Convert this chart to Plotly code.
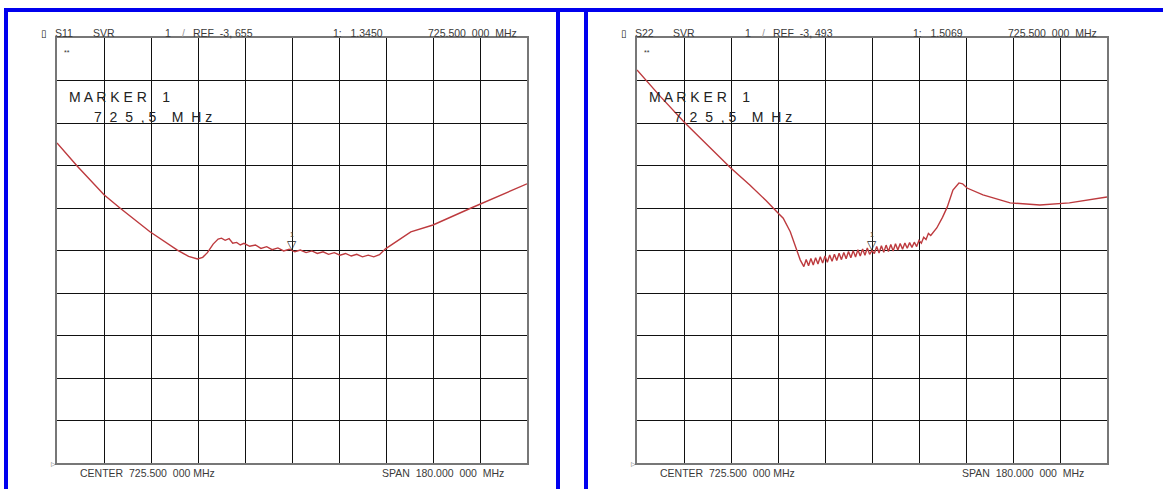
import plotly.graph_objects as go

W, H = 1163, 489

# ---------------- data ----------------
center_mhz = 725.5
span_mhz = 180.0
marker_mhz = 725.5

s11_ref = -3.655
s11_marker_svr = 1.3450
s11_freq = [635.5, 643.2, 653.5, 659.6, 671.1, 681.6, 685.9, 689.3, 691.3, 693.1, 695.3, 697.2,
            698.5, 699.9, 701.4, 702.8, 704.3, 705.7, 707.1, 709.3, 711.5, 713.6, 715.8, 717.9,
            720.1, 722.3, 724.4, 725.5, 726.6, 728.7, 730.9, 733.1, 735.2, 737.4, 739.5, 741.7,
            743.9, 746.0, 748.2, 750.3, 752.5, 754.7, 756.8, 759.0, 761.3, 771.0, 779.5, 794.1, 815.5]
s11_svr = [3.875, 3.335, 2.655, 2.345, 1.785, 1.355, 1.205, 1.145, 1.185, 1.295, 1.495, 1.615,
           1.635, 1.585, 1.625, 1.515, 1.535, 1.475, 1.515, 1.445, 1.475, 1.395, 1.435, 1.365,
           1.405, 1.335, 1.375, 1.345, 1.315, 1.355, 1.295, 1.335, 1.275, 1.315, 1.255, 1.295,
           1.235, 1.275, 1.215, 1.255, 1.195, 1.235, 1.195, 1.245, 1.385, 1.785, 1.945, 2.345, 2.915]

s22_ref = -3.493
s22_marker_svr = 1.5069
s22_freq = [635.5, 644.5, 653.9, 662.5, 671.1, 678.7, 685.0, 689.5, 691.5, 694.2, 698.0,
            699.4, 700.3, 701.2, 702.1, 703.0, 703.9, 704.8, 705.7, 706.6, 707.5,
            708.4, 709.3, 710.2, 711.1, 712.0, 712.9, 713.8, 714.7, 715.6, 716.5,
            717.4, 718.3, 719.2, 720.1, 721.0, 721.9, 722.8, 723.7, 724.6, 725.5,
            726.4, 727.3, 728.2, 729.1, 730.0, 730.9, 731.8, 732.7, 733.6, 734.5,
            735.4, 736.3, 737.2, 738.1, 739.0, 739.9, 740.8, 741.7, 742.6, 743.5,
            744.4, 745.3, 746.2, 747.1, 748.0,
            750.3, 752.5, 754.3, 756.5, 758.8, 760.2, 761.9, 768.0, 778.4, 789.8, 801.1, 815.5]
s22_svr = [5.757, 5.127, 4.507, 3.977, 3.467, 3.047, 2.677, 2.387, 2.267, 1.947, 1.287,
           1.127, 1.297, 1.148, 1.318, 1.168, 1.339, 1.189, 1.359, 1.210, 1.380,
           1.230, 1.401, 1.251, 1.421, 1.272, 1.442, 1.292, 1.463, 1.313, 1.483,
           1.334, 1.504, 1.354, 1.525, 1.375, 1.545, 1.396, 1.566, 1.416, 1.507,
           1.435, 1.603, 1.450, 1.618, 1.466, 1.634, 1.482, 1.649, 1.497, 1.665,
           1.518, 1.671, 1.539, 1.681, 1.559, 1.692, 1.580, 1.703, 1.600, 1.745,
           1.680, 1.820, 1.765, 1.910, 1.860,
           2.037, 2.287, 2.527, 2.927, 3.097, 3.077, 2.977, 2.817, 2.627, 2.577, 2.627, 2.767]

panels = [
    dict(name="S11", ref=s11_ref, mval=s11_marker_svr, freq=s11_freq, svr=s11_svr),
    dict(name="S22", ref=s22_ref, mval=s22_marker_svr, freq=s22_freq, svr=s22_svr),
]

# ---------------- layout helpers ----------------
def px(x):
    return x / W

def py(y):
    return 1 - y / H

NB = "\u00a0"
grid_left = [57, 637]
grid_w = 470
grid_top, grid_bot = 38, 463
fstart = center_mhz - span_mhz / 2
fstop = center_mhz + span_mhz / 2

TRACE = "#bd3a3e"
TXT = "#3a3a3a"
FONT = "Liberation Sans"

fig = go.Figure()
annotations = []
shapes = []

for i, p in enumerate(panels):
    xa = "x" if i == 0 else "x2"
    ya = "y" if i == 0 else "y2"
    fig.add_trace(go.Scatter(x=p["freq"], y=p["svr"], mode="lines",
                             line=dict(color=TRACE, width=1.4), xaxis=xa, yaxis=ya,
                             showlegend=False, hoverinfo="skip"))
    mval = p["svr"][p["freq"].index(marker_mhz)]
    # marker triangle
    annotations.append(dict(x=marker_mhz, y=mval, xref=xa, yref=ya, text="▽",
                            showarrow=False, yanchor="bottom", yshift=-3,
                            font=dict(family="DejaVu Sans", size=12, color="#222")))
    annotations.append(dict(x=marker_mhz, y=mval, xref=xa, yref=ya, text="1",
                            showarrow=False, yanchor="bottom", yshift=11,
                            font=dict(family=FONT, size=7, color="#444")))

    off = grid_left[i] - 57
    def t(x, y, s, size=10.5, fam=FONT, color=TXT):
        annotations.append(dict(x=px(x + off), y=py(y), xref="paper", yref="paper",
                                text=s, showarrow=False, xanchor="left", yanchor="middle",
                                font=dict(family=fam, size=size, color=color)))
    ref_txt = f"{p['ref']:.3f}".replace(".", "," + NB)
    t(39, 33, "▯", size=10, fam="DejaVu Sans", color="#111")
    t(53, 33, p["name"])
    t(91, 33, "SVR")
    t(163, 33, "1")
    t(180, 33, "/", color="#999")
    t(191, 33, "REF" + NB * 2 + ref_txt)
    t(331, 33, f"1:{NB * 3}{p['mval']:.4f}")
    t(426, 33, "725.500" + NB * 2 + "000" + NB * 2 + "MHz")
    t(62, 52, "**", size=7, color="#333")
    t(67, 97, "M A R K E R" + NB * 4 + "1", size=14, color="#222")
    t(92, 117, NB.join(["7", "", "2", "", "5", "", ",", "5", "", "", "", "M", "", "H", "z"]),
      size=14, color="#222")
    t(78, 473, "CENTER" + NB * 2 + "725.500" + NB * 2 + "000 MHz")
    t(380, 473, "SPAN" + NB * 2 + "180.000" + NB * 2 + "000" + NB * 2 + "MHz")
    t(49, 463, "▷", size=6, fam="DejaVu Sans", color="#555")

# blue frames
BLUE = "#0000ee"
shapes.append(dict(type="rect", xref="paper", yref="paper", x0=px(4), x1=1.0,
                   y0=py(12), y1=py(8), fillcolor=BLUE, line=dict(width=0), layer="above"))
for x0 in (4, 556, 584):
    shapes.append(dict(type="rect", xref="paper", yref="paper", x0=px(x0), x1=px(x0 + 4),
                       y0=0, y1=py(8), fillcolor=BLUE, line=dict(width=0), layer="above"))

layout_axes = {}
for i in range(2):
    sx = "" if i == 0 else "2"
    dom = [px(grid_left[i]), px(grid_left[i] + grid_w)]
    ref = panels[i]["ref"]
    layout_axes["xaxis" + sx] = dict(
        domain=dom, range=[fstart, fstop], tick0=fstart, dtick=span_mhz / 10,
        showgrid=True, gridcolor="#111", gridwidth=1.4, showticklabels=False,
        ticks="", zeroline=False, showline=True, linecolor="#777", linewidth=2,
        mirror=True, anchor="y" + sx, fixedrange=True)
    layout_axes["yaxis" + sx] = dict(
        domain=[py(grid_bot), py(grid_top)], range=[ref, ref + 10], tick0=ref, dtick=1,
        showgrid=True, gridcolor="#111", gridwidth=1.4, showticklabels=False,
        ticks="", zeroline=False, showline=True, linecolor="#777", linewidth=2,
        mirror=True, anchor="x" + sx, fixedrange=True)

fig.update_layout(width=W, height=H, margin=dict(l=0, r=0, t=0, b=0),
                  paper_bgcolor="white", plot_bgcolor="white",
                  annotations=annotations, shapes=shapes, showlegend=False,
                  **layout_axes)

fig.write_html("out.html", config={"displayModeBar": False},
               post_script="document.body.style.margin='0';document.body.style.padding='0';"
                           "document.body.style.overflow='hidden';")
